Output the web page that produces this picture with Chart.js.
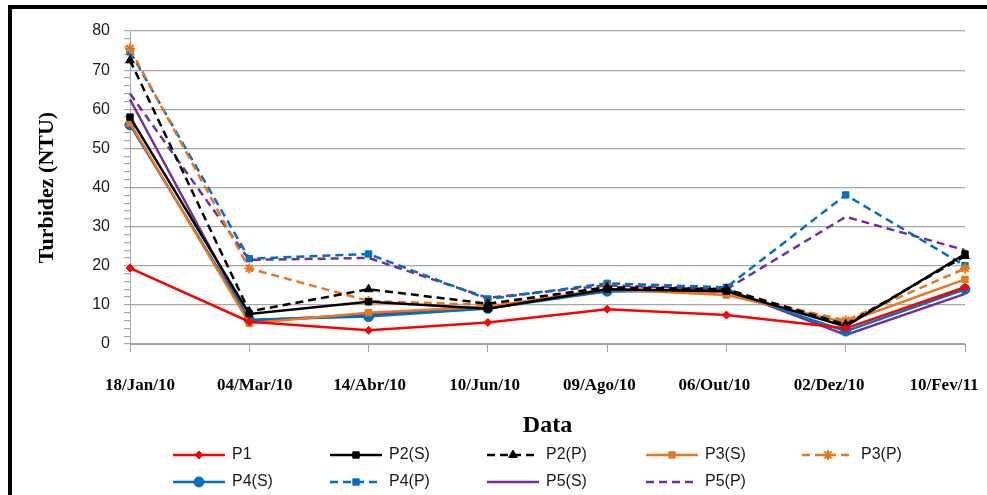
<!DOCTYPE html>
<html>
<head>
<meta charset="utf-8">
<script src="https://cdn.jsdelivr.net/npm/chart.js@4.4.1/dist/chart.umd.min.js"></script>
<style>
    body { margin: 0; background: #fff; overflow: hidden; }
    #wrap { position: relative; width: 987px; height: 495px; }
    #frame { position: absolute; left: 8px; top: 5px; width: 1100px; height: 600px;
             border-left: 4px solid #000; border-top: 4px solid #000; pointer-events: none; }
</style>
</head>
<body>
<div id="wrap">
    <canvas id="turbChart" width="987" height="495"></canvas>
    <div id="frame"></div>
</div>
<script>
// dates of sampling
const dates = ["18/Jan/10", "04/Mar/10", "14/Abr/10", "10/Jun/10", "09/Ago/10", "06/Out/10", "02/Dez/10", "10/Fev/11"];

// turbidity (NTU) per point
const p1  = [19.4, 5.7, 3.5, 5.5, 8.9, 7.4, 4.0, 14.5];
const p2s = [58.0, 7.7, 10.8, 9.0, 14.0, 13.5, 4.5, 23.0];
const p2p = [72.5, 8.3, 14.0, 10.3, 14.5, 14.0, 5.0, 22.5];
const p3s = [56.5, 5.3, 8.0, 9.5, 14.0, 12.5, 5.5, 16.5];
const p3p = [75.5, 19.3, 11.0, 10.0, 14.5, 13.0, 6.0, 19.3];
const p4s = [56.0, 6.2, 7.0, 9.1, 13.5, 13.5, 3.3, 14.0];
const p4p = [74.7, 21.8, 23.0, 11.5, 15.5, 14.5, 38.1, 20.0];
const p5s = [62.5, 6.0, 7.5, 9.5, 13.5, 14.0, 2.3, 12.8];
const p5p = [64.0, 21.5, 22.0, 11.8, 15.0, 14.0, 32.5, 24.0];

const RED = "#ff0000", BLACK = "#000000", ORANGE = "#e8771e", BLUE = "#0070c0", PURPLE = "#7030a0";
const DASH = [8, 5];

function series(label, data, color, dashed, style, radius) {
    return {
        label: label,
        data: data,
        borderColor: color,
        backgroundColor: color,
        borderWidth: 2.5,
        borderDash: dashed ? DASH : [],
        pointStyle: style || "circle",
        pointRadius: radius || 0,
        pointBorderWidth: style === "star" ? 2 : 1,
        tension: 0,
        fill: false
    };
}

const datasets = [
    series("P1", p1, RED, false, "rectRot", 4),
    series("P2(S)", p2s, BLACK, false, "rect", 4.5),
    series("P2(P)", p2p, BLACK, true, "triangle", 5),
    series("P3(S)", p3s, ORANGE, false, "rect", 4.5),
    series("P3(P)", p3p, ORANGE, true, "star", 5),
    series("P4(S)", p4s, BLUE, false, "circle", 5),
    series("P4(P)", p4p, BLUE, true, "rect", 4.5),
    series("P5(S)", p5s, PURPLE, false, null, 0),
    series("P5(P)", p5p, PURPLE, true, null, 0)
];

// legend drawn as a 5-column grid like the original
const gridLegend = {
    id: "gridLegend",
    afterDraw(chart) {
        const ctx = chart.ctx;
        const cols = [173, 330, 487, 646, 802];
        const rows = [455, 482];
        ctx.save();
        chart.data.datasets.forEach((ds, i) => {
            const x = cols[i % 5];
            const y = rows[Math.floor(i / 5)];
            ctx.strokeStyle = ds.borderColor;
            ctx.fillStyle = ds.backgroundColor;
            ctx.lineWidth = 2.5;
            ctx.setLineDash(ds.borderDash);
            ctx.beginPath();
            ctx.moveTo(x, y);
            ctx.lineTo(x + 52, y);
            ctx.stroke();
            ctx.setLineDash([]);
            if (ds.pointRadius > 0) {
                ctx.lineWidth = ds.pointBorderWidth;
                Chart.helpers.drawPoint(ctx, {
                    pointStyle: ds.pointStyle,
                    radius: ds.pointRadius,
                    rotation: 0,
                    borderWidth: ds.pointBorderWidth
                }, x + 26, y);
            }
            ctx.fillStyle = "#1a1a1a";
            ctx.font = "16px 'Liberation Sans'";
            ctx.textBaseline = "middle";
            ctx.textAlign = "left";
            ctx.fillText(ds.label, x + 59, y);
        });
        ctx.restore();
    }
};

const ctx = document.getElementById("turbChart").getContext("2d");

new Chart(ctx, {
    type: "line",
    data: { labels: dates, datasets: datasets },
    options: {
        responsive: false,
        animation: false,
        layout: { padding: { left: 0, top: 31, right: 22, bottom: 51 } },
        plugins: {
            legend: { display: false },
            tooltip: { enabled: false }
        },
        scales: {
            x: {
                type: "category",
                weight: 0,
                grid: { drawOnChartArea: false, tickLength: 8, tickColor: "#a0a0a0" },
                border: { color: "#a0a0a0", width: 1 },
                ticks: { display: false },
                afterFit(scale) {
                    scale.height = 8;
                    scale.paddingLeft = 0;
                    scale.paddingRight = 0;
                }
            },
            xl: {
                type: "linear",
                position: "bottom",
                weight: 1,
                min: -0.087,
                max: 7.183,
                grid: { display: false },
                border: { display: false },
                afterBuildTicks(scale) {
                    scale.ticks = dates.map((d, i) => ({ value: i }));
                },
                ticks: {
                    padding: 15,
                    maxRotation: 0,
                    autoSkip: false,
                    color: "#000",
                    font: { family: "'Liberation Serif'", size: 17, weight: "bold" },
                    callback: (v) => dates[v]
                },
                title: {
                    display: true,
                    text: "Data",
                    color: "#000",
                    font: { family: "'Liberation Serif'", size: 24, weight: "bold" },
                    padding: { bottom: 4 }
                },
                afterFit(scale) {
                    scale.height = 92;
                    scale.paddingLeft = 0;
                    scale.paddingRight = 0;
                }
            },
            y: {
                min: 0,
                max: 80,
                ticks: {
                    stepSize: 2,
                    autoSkip: false,
                    padding: 14,
                    color: "#1a1a1a",
                    font: { family: "'Liberation Sans'", size: 16 },
                    callback: (v) => (v % 10 === 0 ? v : "")
                },
                grid: {
                    color: (c) => (c.tick && c.tick.value % 10 === 0 ? "#a6a6a6" : "rgba(0,0,0,0)"),
                    tickColor: "#a6a6a6",
                    tickLength: 6,
                    lineWidth: 1.2
                },
                border: { color: "#a6a6a6", width: 1 },
                title: {
                    display: true,
                    text: "Turbidez (NTU)",
                    color: "#000",
                    font: { family: "'Liberation Serif'", size: 22, weight: "bold" },
                    padding: { top: 34 }
                },
                afterFit(scale) {
                    scale.width = 130;
                }
            }
        }
    },
    plugins: [gridLegend]
});
</script>
</body>
</html>
